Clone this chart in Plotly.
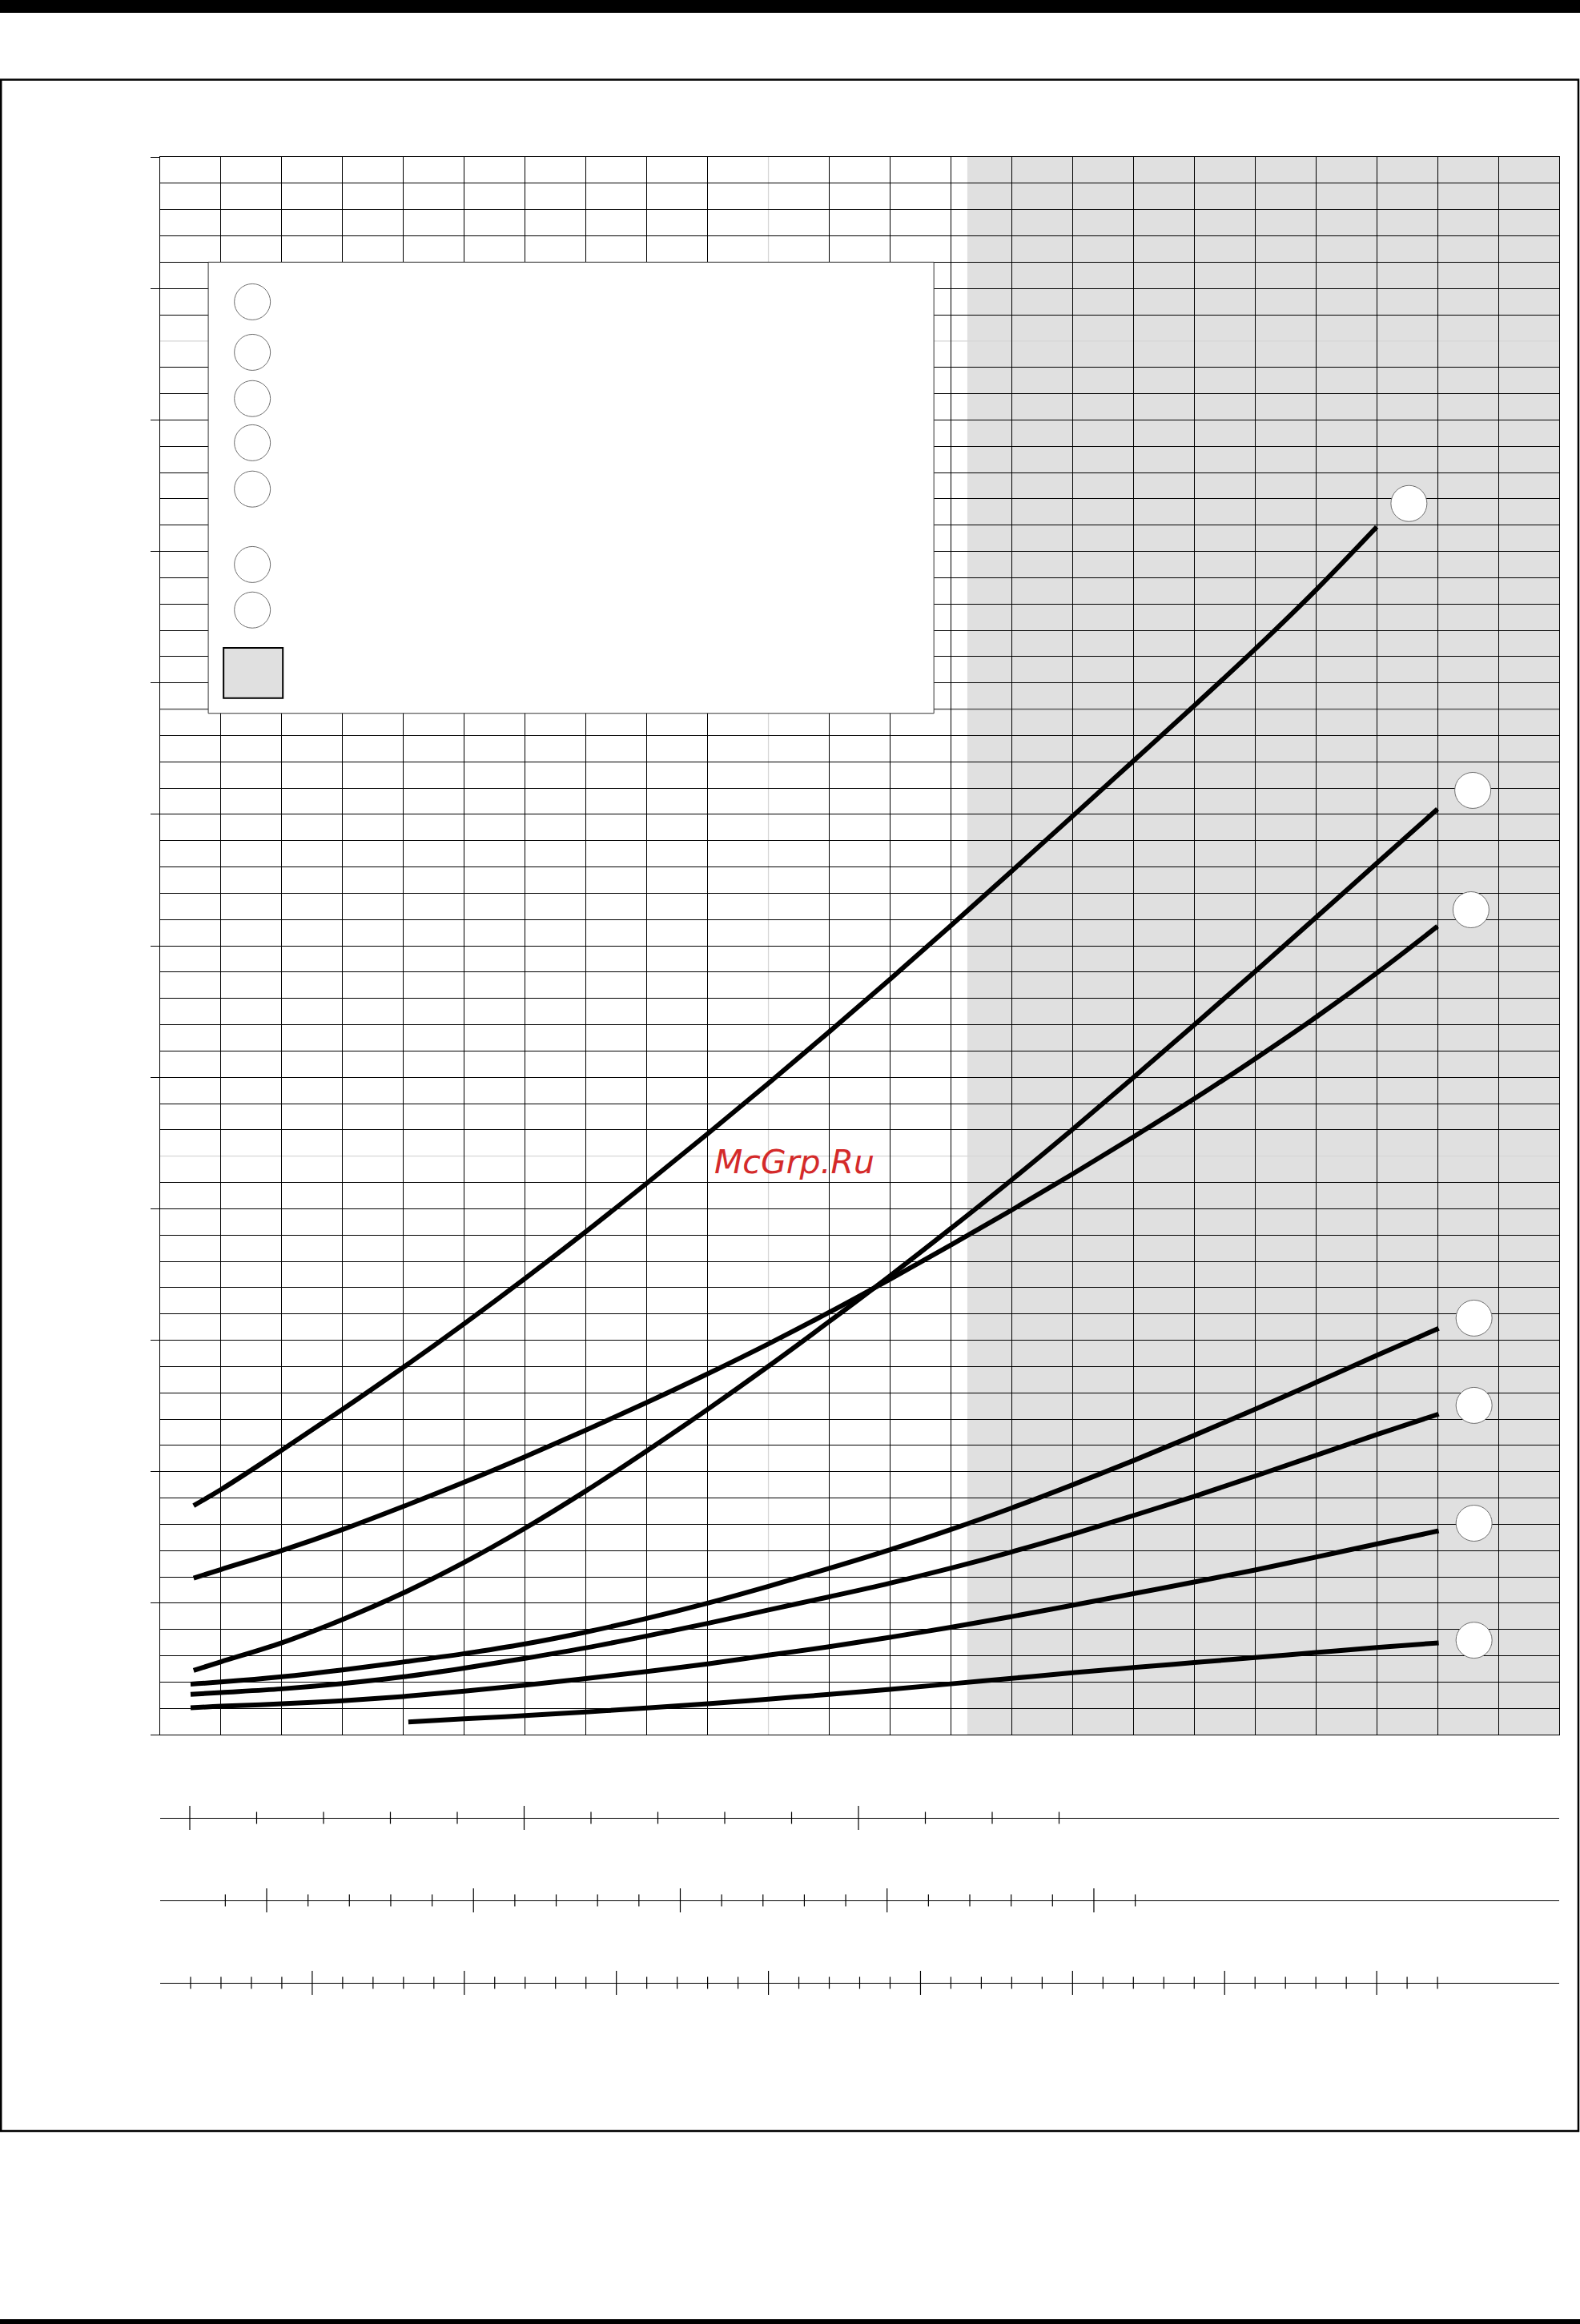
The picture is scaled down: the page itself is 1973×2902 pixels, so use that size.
import plotly.graph_objects as go

# ---------------- data (grid units: x = column, y = row) ----------------
x_A = [0.55, 1, 2, 3, 4, 5, 6, 7, 8, 9, 10, 11, 12, 13, 14, 15, 16, 17, 18, 19, 20]
y_A = [8.71, 9.32, 10.82, 12.37, 13.97, 15.63, 17.35, 19.13, 20.97, 22.85, 24.77, 26.73,
       28.73, 30.77, 32.84, 34.93, 37.03, 39.13, 41.28, 43.53, 45.93]

x_B = [0.55, 1, 2, 3, 4, 5, 6, 7, 8, 9, 10, 11, 12, 13, 14, 15, 16, 17, 18, 19, 20, 21]
y_B = [2.44, 2.77, 3.49, 4.38, 5.39, 6.55, 7.85, 9.27, 10.79, 12.37, 14.01, 15.71, 17.45,
       19.25, 21.1, 23.02, 24.99, 26.99, 29.02, 31.07, 33.14, 35.2]

x_C = [0.55, 1, 2, 3, 4, 5, 6, 7, 8, 9, 10, 11, 12, 13, 14, 15, 16, 17, 18, 19, 20, 21]
y_C = [5.95, 6.28, 7.0, 7.8, 8.68, 9.6, 10.57, 11.58, 12.63, 13.72, 14.86, 16.06, 17.32,
       18.62, 19.95, 21.32, 22.73, 24.18, 25.7, 27.28, 28.96, 30.74]

x_D = [0.5, 1, 2, 3, 4, 5, 6, 7, 8, 9, 10, 11, 12, 13, 14, 15, 16, 17, 18, 19, 20, 21.02]
y_D = [1.92, 2.0, 2.2, 2.46, 2.76, 3.08, 3.45, 3.9, 4.42, 5.0, 5.64, 6.32, 7.03, 7.8,
       8.62, 9.5, 10.42, 11.38, 12.37, 13.39, 14.42, 15.45]

x_E = [0.5, 1, 2, 3, 4, 5, 6, 7, 8, 9, 10, 11, 12, 13, 14, 15, 16, 17, 18, 19, 20, 21.02]
y_E = [1.53, 1.6, 1.74, 1.94, 2.2, 2.53, 2.9, 3.3, 3.75, 4.23, 4.74, 5.24, 5.76, 6.33,
       6.95, 7.62, 8.33, 9.06, 9.83, 10.62, 11.41, 12.19]

x_F = [0.5, 1, 2, 3, 4, 5, 6, 7, 8, 9, 10, 11, 12, 13, 14, 15, 16, 17, 18, 19, 20, 21.02]
y_F = [1.02, 1.08, 1.17, 1.29, 1.45, 1.65, 1.88, 2.13, 2.4, 2.69, 3.02, 3.34, 3.7, 4.08,
       4.49, 4.92, 5.36, 5.8, 6.26, 6.75, 7.25, 7.75]

x_G = [4.08, 5, 6, 7, 8, 9, 10, 11, 12, 13, 14, 15, 16, 17, 18, 19, 20, 21.02]
y_G = [0.48, 0.6, 0.72, 0.86, 1.01, 1.17, 1.35, 1.53, 1.72, 1.93, 2.14, 2.35, 2.55,
       2.74, 2.93, 3.12, 3.31, 3.49]

curves = [(x_A, y_A), (x_B, y_B), (x_C, y_C), (x_D, y_D), (x_E, y_E), (x_F, y_F), (x_G, y_G)]

# grid lines
x_grid = [c for c in range(0, 24) if c != 10]
y_major = list(range(0, 61, 5))
y_minor = [r for r in range(0, 61) if r % 5 != 0 and r not in (22, 39, 53)]

# auxiliary scales below the chart (tick values)
scale1_major = [0, 5, 10]
scale1_minor = [1, 2, 3, 4, 6, 7, 8, 9, 11, 12, 13]
scale2_major = [0, 5, 10, 15, 20]
scale2_minor = [-1, 1, 2, 3, 4, 6, 7, 8, 9, 11, 12, 13, 14, 16, 17, 18, 19, 21]
scale3_major = [0, 5, 10, 15, 20, 25, 30, 35]
scale3_minor = [v for v in range(-4, 38) if v % 5 != 0]

# ---------------- layout helpers ----------------
W, H = 1973, 2902
L, R, T, B = 200, 26, 196, 400
PW = W - L - R
PH = H - T - B


def px_x(px):
    return (px - L) / PW


def px_y(py):
    return (H - B - py) / PH


main_bottom = px_y(2166)
row_pos = [px_y(2270), px_y(2373), px_y(2476)]
scale_ranges = [[-0.443, 20.479], [-2.575, 31.25], [-5.0, 41.0]]

# label circle positions (grid units)
legend_circ_x = [1.516] * 7
legend_circ_y = [54.49, 52.57, 50.81, 49.13, 47.37, 44.50, 42.77]
end_circ_x = [20.53, 21.58, 21.55, 21.60, 21.60, 21.60, 21.60]
end_circ_y = [46.82, 35.91, 31.37, 15.84, 12.52, 8.04, 3.59]

fig = go.Figure()

for xs, ys in curves:
    fig.add_trace(go.Scatter(x=xs, y=ys, mode='lines',
                             line=dict(color='black', width=6, shape='spline', smoothing=1.0),
                             hoverinfo='skip', showlegend=False))

fig.add_trace(go.Scatter(x=legend_circ_x + end_circ_x, y=legend_circ_y + end_circ_y,
                         mode='markers', hoverinfo='skip', showlegend=False, cliponaxis=False,
                         marker=dict(symbol='circle', size=45, color='white',
                                     line=dict(color='#6e6e6e', width=1))))

scales = [(scale1_major, scale1_minor), (scale2_major, scale2_minor), (scale3_major, scale3_minor)]
for i, (maj, mnr) in enumerate(scales):
    xa = 'x%d' % (i + 2)
    for vals, sz in ((maj, 21.4), (mnr, 10.7)):
        fig.add_trace(go.Scatter(x=vals, y=[row_pos[i]] * len(vals), xaxis=xa, yaxis='y2',
                                 mode='markers', hoverinfo='skip', showlegend=False,
                                 cliponaxis=False,
                                 marker=dict(symbol='line-ns', size=sz, color='black',
                                             line=dict(color='black', width=1.2))))

axis_common = dict(showticklabels=False, zeroline=False)
layout = dict(
    width=W, height=H,
    margin=dict(l=L, r=R, t=T, b=B, pad=0),
    paper_bgcolor='white', plot_bgcolor='white',
    showlegend=False,
    xaxis=dict(domain=[0, 1], range=[0, 23], tickmode='array', tickvals=x_grid,
               showgrid=True, gridcolor='black', gridwidth=1.3, ticks='',
               showline=True, linecolor='black', linewidth=1.4, mirror=True,
               anchor='y', **axis_common),
    yaxis=dict(domain=[main_bottom, 1], range=[0, 60], tickmode='array', tickvals=y_major,
               showgrid=True, gridcolor='black', gridwidth=1.3,
               ticks='outside', ticklen=11, tickwidth=1.3, tickcolor='black',
               minor=dict(tickmode='array', tickvals=y_minor, showgrid=True,
                          gridcolor='black', gridwidth=1.3, ticks=''),
               showline=True, linecolor='black', linewidth=1.4, mirror=True,
               anchor='x', **axis_common),
    yaxis2=dict(domain=[0, 0.14], range=[0, 0.14], visible=False, anchor='free', position=0),
)
for i in range(3):
    ax = dict(domain=[0, 1], range=scale_ranges[i], anchor='free',
              position=row_pos[i], showline=True, linecolor='black',
              linewidth=1.4, showgrid=False, ticks='', **axis_common)
    if i > 0:
        ax['overlaying'] = 'x2'
    layout['xaxis%d' % (i + 2)] = ax

shapes = [
    dict(type='rect', xref='x', yref='y', x0=13.27, x1=23, y0=0, y1=60,
         fillcolor='#e0e0e0', line=dict(width=0), layer='below'),
    dict(type='line', xref='x', yref='y', x0=10, x1=10, y0=0, y1=60,
         line=dict(color='#d6d6d6', width=1.3), layer='below'),
    dict(type='line', xref='x', yref='y', x0=0, x1=23, y0=22, y1=22,
         line=dict(color='#d6d6d6', width=1.3), layer='below'),
    dict(type='line', xref='x', yref='y', x0=0, x1=23, y0=53, y1=53,
         line=dict(color='#d6d6d6', width=1.3), layer='below'),
    dict(type='line', xref='x', yref='y', x0=0, x1=23, y0=39, y1=39,
         line=dict(color='#5c5c5c', width=1.3), layer='below'),
    # legend panel
    dict(type='rect', xref='x', yref='y', x0=0.791, x1=12.72, y0=38.84, y1=56.0,
         fillcolor='white', line=dict(color='#333333', width=1), layer='between'),
    dict(type='rect', xref='x', yref='y', x0=1.042, x1=2.017, y0=39.42, y1=41.33,
         fillcolor='#e0e0e0', line=dict(color='black', width=2), layer='between'),
    # page frame and bars
    dict(type='rect', xref='paper', yref='paper', x0=px_x(1.2), x1=px_x(1971), y0=px_y(2661),
         y1=px_y(99.5), line=dict(color='black', width=2.5), fillcolor='rgba(0,0,0,0)',
         layer='above'),
    dict(type='rect', xref='paper', yref='paper', x0=px_x(0), x1=px_x(W), y0=px_y(16),
         y1=px_y(0), line=dict(width=0), fillcolor='black', layer='above'),
    dict(type='rect', xref='paper', yref='paper', x0=px_x(0), x1=px_x(W), y0=px_y(H),
         y1=px_y(2896), line=dict(width=0), fillcolor='black', layer='above'),
]
layout['shapes'] = shapes
layout['annotations'] = [
    dict(text='McGrp.Ru', xref='paper', yref='paper', x=px_x(991.5), y=px_y(1451),
         xanchor='center', yanchor='middle', showarrow=False,
         font=dict(family='DejaVu Sans', size=41, color='#d42a2a', style='italic'))
]

fig.update_layout(**layout)
fig.write_html('out.html', config={'displayModeBar': False},
               post_script="document.body.style.margin='0px';")
